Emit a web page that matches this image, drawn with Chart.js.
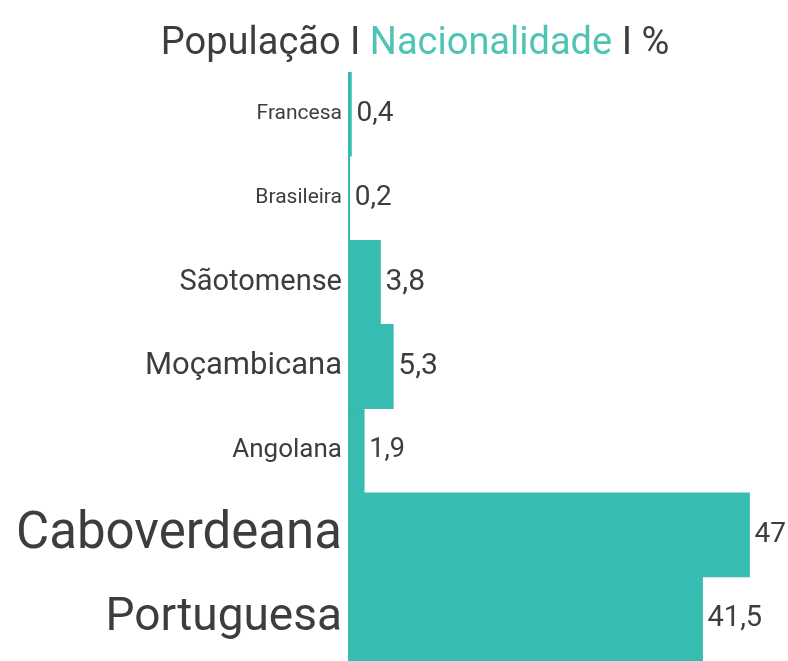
<!DOCTYPE html>
<html>
<head>
<meta charset="utf-8">
<script src="https://cdn.jsdelivr.net/npm/chart.js@4"></script>
<style>
html,body{margin:0;padding:0;background:#fff;}
canvas{display:block;}
</style>
</head>
<body>
<canvas id="c" width="788" height="661"></canvas>
<script>
// ---- data ----
const categories = ['Francesa', 'Brasileira', 'Sãotomense', 'Moçambicana', 'Angolana', 'Caboverdeana', 'Portuguesa'];
const values = [0.4, 0.2, 3.8, 5.3, 1.9, 47, 41.5];
const valueLabels = ['0,4', '0,2', '3,8', '5,3', '1,9', '47', '41,5'];
const titleParts = ['População I ', 'Nacionalidade', ' I %'];

// ---- style ----
const FONT = 'Roboto, "Open Sans", sans-serif';
const TEXT = '#3d3d3d';
const TEAL = '#36bcb0';
const TITLE_TEAL = '#4fc4b5';
const labelFontSizes = [21, 21, 29, 31, 26, 51, 46];
const valueFontSizes = [28, 28, 30, 30, 27, 28, 29];

const valuePlugin = {
  id: 'valueLabels',
  afterDatasetsDraw(chart) {
    const ctx = chart.ctx;
    const meta = chart.getDatasetMeta(0);
    ctx.save();
    ctx.fillStyle = TEXT;
    ctx.textAlign = 'left';
    ctx.textBaseline = 'middle';
    meta.data.forEach((el, i) => {
      ctx.font = valueFontSizes[i] + 'px ' + FONT;
      ctx.fillText(valueLabels[i], el.x + 5, el.y);
    });
    ctx.restore();
  }
};

const titlePlugin = {
  id: 'mixedTitle',
  afterDraw(chart) {
    const ctx = chart.ctx;
    ctx.save();
    ctx.font = '38px ' + FONT;
    ctx.textBaseline = 'alphabetic';
    ctx.textAlign = 'left';
    const widths = titleParts.map(t => ctx.measureText(t).width);
    const total = widths.reduce((a, b) => a + b, 0);
    let x = 415 - total / 2;
    const colors = [TEXT, TITLE_TEAL, TEXT];
    titleParts.forEach((t, i) => {
      ctx.fillStyle = colors[i];
      ctx.fillText(t, x, 54);
      x += widths[i];
    });
    ctx.restore();
  }
};

new Chart(document.getElementById('c'), {
  type: 'bar',
  data: {
    labels: categories,
    datasets: [{
      data: values,
      backgroundColor: TEAL,
      borderWidth: 0,
      barPercentage: 1,
      categoryPercentage: 1
    }]
  },
  options: {
    indexAxis: 'y',
    responsive: false,
    animation: false,
    devicePixelRatio: 1,
    layout: { padding: { top: 72, left: 0, right: 0, bottom: 0 } },
    scales: {
      x: { display: false, min: 0, max: 51.5 },
      y: {
        grid: { display: false, drawTicks: false },
        border: { display: false },
        ticks: {
          color: TEXT,
          padding: 6,
          font: (c) => ({ family: FONT, size: labelFontSizes[c.index] || 20 })
        },
        afterFit(scale) {
          scale.width = 348;
          scale.paddingTop = 0;
          scale.paddingBottom = 0;
        }
      }
    },
    plugins: {
      legend: { display: false },
      tooltip: { enabled: false },
      title: { display: false }
    }
  },
  plugins: [valuePlugin, titlePlugin]
});
</script>
</body>
</html>
